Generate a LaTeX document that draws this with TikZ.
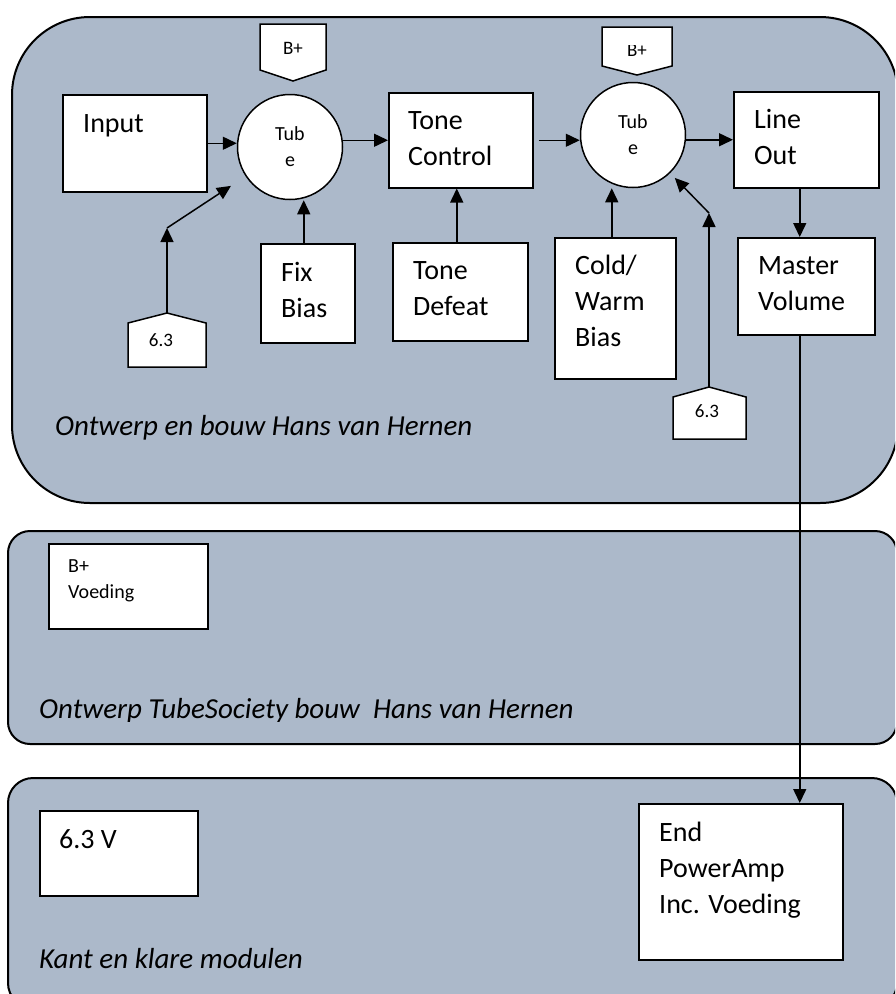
\documentclass[tikz,border=0pt]{standalone}
\usepackage{fontspec}
\setmainfont{Carlito}
\usetikzlibrary{arrows.meta,calc}
\definecolor{panelfill}{HTML}{ACB9CA}
\begin{document}
\begin{tikzpicture}[x=1pt,y=-1pt,
  panel/.style={draw=black, line width=2pt, fill=panelfill, rectangle, inner sep=0pt, anchor=north west},
  blk/.style={draw=black, line width=1.5pt, fill=white, rectangle, inner sep=0pt, anchor=north west},
  lbl/.style={font=\fontsize{28}{36}\selectfont, align=left, anchor=base west, inner sep=0pt},
  smalllbl/.style={font=\fontsize{20}{26}\selectfont, align=left, anchor=base west, inner sep=0pt},
  tagtxt/.style={font=\fontsize{19}{23}\selectfont, inner sep=0pt},
  tube/.style={draw=black, circle, line width=1.5pt, fill=white, minimum size=105pt, inner sep=0pt, align=center, font=\fontsize{20}{26}\selectfont},
  tagshape/.style={draw=black, line width=1.5pt, fill=white, line join=miter},
  conn/.style={line width=1.5pt, -{Triangle[length=14pt,width=13pt]}},
  captxt/.style={font=\itshape\fontsize{29}{34}\selectfont, anchor=base west, inner sep=0pt}
]
\useasboundingbox (0,0) rectangle (895,994);
\clip (0,0) rectangle (895,994);

% panels
\node[panel, rounded corners=78pt, minimum width=886pt, minimum height=486pt] (p1) at (11,16) {};
\node[panel, rounded corners=22pt, minimum width=889pt, minimum height=213pt] (p2) at (7,530) {};
\node[panel, rounded corners=25pt, minimum width=889pt, minimum height=230pt] (p3) at (7,777) {};

% blocks of the first panel (base anchor = baseline of the last line)
\node[blk, minimum width=144pt, minimum height=97pt] (in) at (62,94) {};
\node[lbl] (inT) at ([xshift=21pt,yshift=-38pt]in.north west) {Input};

\node[tube] (tube1) at (290,147) {Tub\\e};

\node[blk, minimum width=144pt, minimum height=95pt] (tc) at (388,92) {};
\node[lbl] (tcT) at ([xshift=20pt,yshift=-73pt]tc.north west) {Tone\\Control};

\node[tube] (tube2) at (633,135) {Tub\\e};

\node[blk, minimum width=145pt, minimum height=96pt] (lo) at (733,91) {};
\node[lbl] (loT) at ([xshift=21pt,yshift=-73pt]lo.north west) {Line\\Out};

\node[blk, minimum width=137pt, minimum height=97pt] (mv) at (737,237) {};
\node[lbl] (mvT) at ([xshift=21pt,yshift=-73pt]mv.north west) {Master\\Volume};

\node[blk, minimum width=94pt, minimum height=99pt] (fb) at (260,243) {};
\node[lbl] (fbT) at ([xshift=21pt,yshift=-74pt]fb.north west) {Fix\\Bias};

\node[blk, minimum width=135pt, minimum height=98pt] (td) at (392,242) {};
\node[lbl] (tdT) at ([xshift=21pt,yshift=-73pt]td.north west) {Tone\\Defeat};

\node[blk, minimum width=121pt, minimum height=141pt] (cw) at (554,237) {};
\node[lbl] (cwT) at ([xshift=21pt,yshift=-109pt]cw.north west) {Cold/\\Warm\\Bias};

% tags
\draw[tagshape] (260,24) -- (326,24) -- (326,70) -- (293,81) -- (260,70) -- cycle;
\node[tagtxt] (bp1) at (293,48) {B+};

\draw[tagshape] (602,27) -- (672,27) -- (672,66) -- (637,75) -- (602,66) -- cycle;
\begin{scope}
  \clip (602,45) rectangle (672,70);
  \node[tagtxt] (bp2) at (637,50) {B+};
\end{scope}

\draw[tagshape] (167,313) -- (206,323) -- (206,367) -- (128,367) -- (128,323) -- cycle;
\node[tagtxt] (v1) at (161,340) {6.3};
\coordinate (t1) at (167,313);
\coordinate (k1) at (167,228);

\draw[tagshape] (709,387) -- (746,397) -- (746,439) -- (673,439) -- (673,397) -- cycle;
\node[tagtxt] (v2) at (707,411) {6.3};
\coordinate (t2) at (709,387);
\coordinate (k2) at (709,213);

% second and third panel blocks
\node[blk, minimum width=159pt, minimum height=85pt] (bv) at (48,543) {};
\node[smalllbl] (bvT) at ([xshift=20pt,yshift=-55pt]bv.north west) {B+\\Voeding};

\node[blk, minimum width=158pt, minimum height=85pt] (sv) at (39,810) {};
\node[lbl] (svT) at ([xshift=20pt,yshift=-38pt]sv.north west) {6.3 V};

\node[blk, minimum width=204pt, minimum height=156pt] (epa) at (638,803) {};
\node[lbl] (epaT) at ([xshift=21pt,yshift=-110pt]epa.north west) {End\\PowerAmp\\Inc. Voeding};

% captions
\node[captxt] (c1) at (55,435) {Ontwerp en bouw Hans van Hernen};
\begin{scope}
  \clip (0,530) rectangle (895,721);
  \node[captxt] (c2) at (39,718) {Ontwerp TubeSociety bouw~ Hans van Hernen};
\end{scope}
\node[captxt] (c3) at (39,968) {Kant en klare modulen};

% connectors
\draw[conn] (in.east) -- (in.east -| tube1.west);
\draw[conn] (tube1.east |- tc.west) -- (tc.west);
\draw[conn, shorten <=5pt] (tc.east) -- (tc.east -| tube2.west);
\draw[conn] (lo.west -| tube2.east) -- (lo.west);
\draw[conn] ([xshift=-6.5pt]lo.south) -- ([xshift=-6.5pt]mv.north);
\draw[conn] ([xshift=-6.5pt]mv.south) -- ([xshift=-6.5pt]mv.south |- epa.north);
\draw[conn] ([xshift=-4pt]fb.north) -- ([xshift=-4pt]fb.north |- tube1.south);
\draw[conn] ([xshift=-3.5pt]td.north) -- ([xshift=-3.5pt]td.north |- tc.south);
\draw[conn] ([xshift=-3.5pt]cw.north) -- ([xshift=-3.5pt]cw.north |- tube2.south);
\draw[conn] (t1) -- (k1);
\draw[conn] (k1) -- ($(k1)!0.52!(tube1.center)$);
\draw[conn] (t2) -- (k2);
\draw[conn] (k2) -- ($(k2)!0.45!(tube2.center)$);
\end{tikzpicture}
\end{document}
